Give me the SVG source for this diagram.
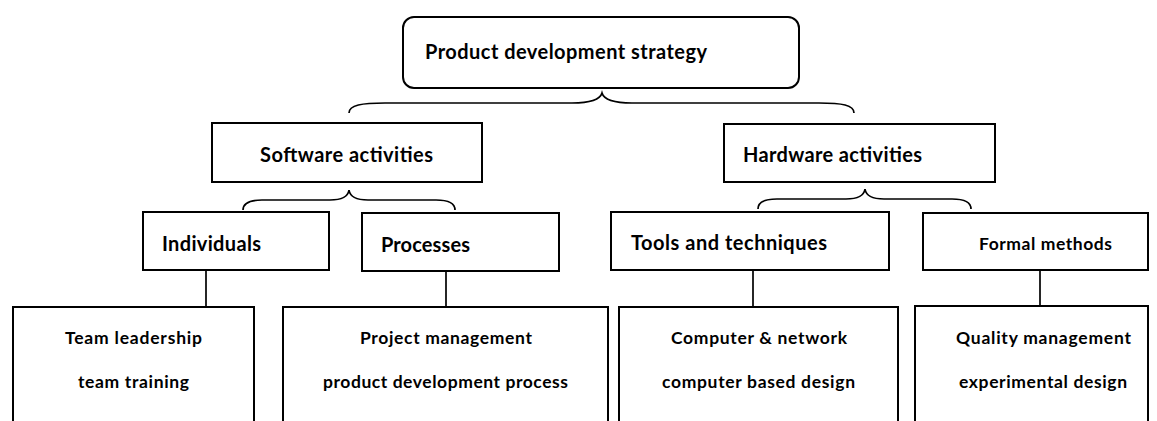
<svg xmlns="http://www.w3.org/2000/svg" width="1157" height="421" viewBox="0 0 1157 421">
<style>
.box{fill:#fff;stroke:#000;stroke-width:2}
.lbl{font-family:Lato,"Liberation Sans",Arial,sans-serif;font-weight:bold;fill:#000}
.l1{font-size:20px}
.l2{font-size:17.5px}
.con{fill:none;stroke:#000;stroke-width:1.7}
</style>
<rect width="1157" height="421" fill="#fff"/>
<g id="connectors">
<path class="con" d="M349,113 C349,105 362,103 385,103 L572,103 C590,103 600,100 602,93 C604,100 614,103 632,103 L819,103 C842,103 854,105 854,113"/>
<path class="con" d="M243,210 C243,203 250,200 262,200 L330,200 C342,200 348,197 349,190 C350,197 356,200 368,200 L436,200 C448,200 455,203 455,210"/>
<path class="con" d="M758,209 C758,202 765,199 777,199 L846,199 C858,199 864,196 865,189 C866,196 872,199 884,199 L952,199 C964,199 971,202 971,209"/>
<line class="con" x1="206" y1="270" x2="206" y2="307"/>
<line class="con" x1="446" y1="271" x2="446" y2="307"/>
<line class="con" x1="753" y1="270" x2="753" y2="307"/>
<line class="con" x1="1040" y1="270" x2="1040" y2="306"/>
</g>
<g id="strategy">
<rect class="box" x="403" y="17" width="396" height="71" rx="11"/>
<text class="lbl l1" x="425" y="59" textLength="282">Product development strategy</text>
</g>
<g id="software">
<rect class="box" x="212" y="123" width="270" height="59"/>
<text class="lbl l1" x="260" y="162" textLength="173">Software activities</text>
</g>
<g id="hardware">
<rect class="box" x="724" y="124" width="271" height="58"/>
<text class="lbl l1" x="743" y="162" textLength="179">Hardware activities</text>
</g>
<g id="individuals">
<rect class="box" x="143" y="212" width="186" height="58"/>
<text class="lbl l1" x="162" y="251" textLength="99">Individuals</text>
</g>
<g id="processes">
<rect class="box" x="362" y="213" width="197" height="58"/>
<text class="lbl l1" x="381" y="252" textLength="89">Processes</text>
</g>
<g id="tools">
<rect class="box" x="611" y="212" width="278" height="58"/>
<text class="lbl l1" x="631" y="250" textLength="196">Tools and techniques</text>
</g>
<g id="formal">
<rect class="box" x="923" y="213" width="225" height="57"/>
<text class="lbl l2" x="979" y="250" textLength="133">Formal methods</text>
</g>
<g id="team">
<rect class="box" x="13" y="307" width="241" height="130"/>
<text class="lbl l2" x="65" y="344" textLength="137">Team leadership</text>
<text class="lbl l2" x="78" y="388" textLength="111">team training</text>
</g>
<g id="project">
<rect class="box" x="283" y="307" width="325" height="130"/>
<text class="lbl l2" x="360" y="344" textLength="172">Project management</text>
<text class="lbl l2" x="323" y="388" textLength="245">product development process</text>
</g>
<g id="computer">
<rect class="box" x="619" y="307" width="279" height="130"/>
<text class="lbl l2" x="671" y="344" textLength="176">Computer &amp; network</text>
<text class="lbl l2" x="662" y="388" textLength="193">computer based design</text>
</g>
<g id="quality">
<rect class="box" x="915" y="306" width="233" height="130"/>
<text class="lbl l2" x="956" y="344" textLength="175">Quality management</text>
<text class="lbl l2" x="959" y="388" textLength="168">experimental design</text>
</g>
</svg>
